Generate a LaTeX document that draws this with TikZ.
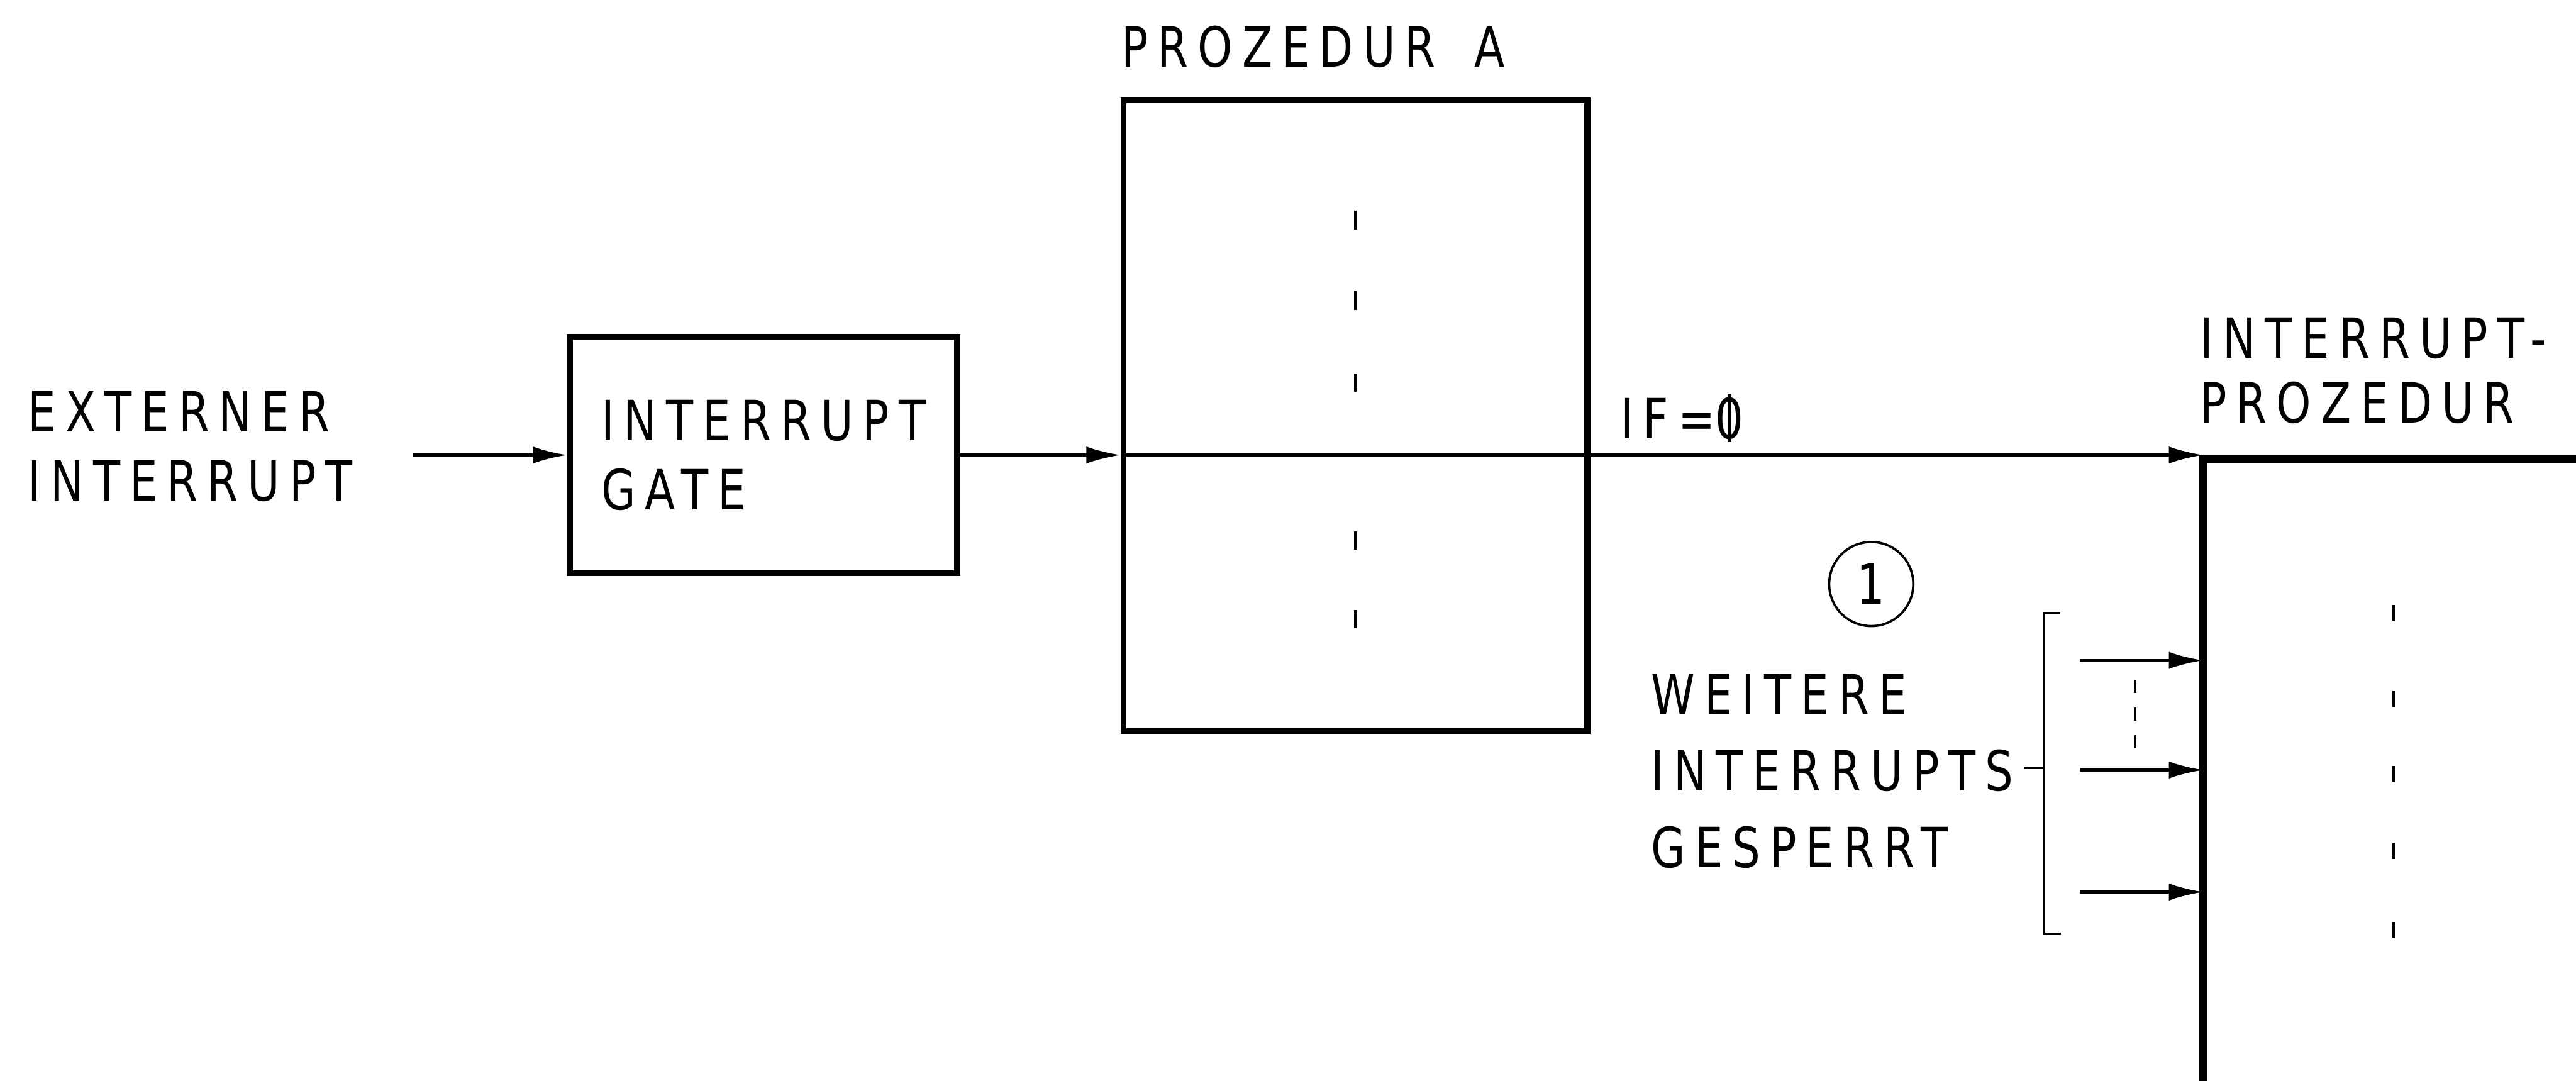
\documentclass[tikz,border=0pt]{standalone}
\usepackage{fontspec}
\setmainfont{DejaVu Sans}[FakeStretch=0.8, LetterSpace=17]
\usetikzlibrary{positioning, arrows.meta}

% zero with a vertical stroke through its middle
\newcommand{\slashzero}{\rlap{0}\hspace{0.22em}\rule[-0.06em]{0.07em}{0.86em}\hspace{0.39em}}

\begin{document}
\begin{tikzpicture}[
    box/.style={draw, rectangle, line width=1.3pt, align=left, inner sep=0pt},
    lbl/.style={align=left, inner sep=0pt, font=\fontsize{12}{15}\selectfont},
    arr/.style={-{Latex[length=2.6mm, width=1.3mm]}, line width=0.6pt},
    heavy/.style={line width=1.7pt, line join=miter},
    thin/.style={line width=0.5pt},
    stroke/.style={line width=0.6pt}
]
    \useasboundingbox (0,0) rectangle (19.6,-8.225);

    \node[box, minimum width=2.945cm, minimum height=1.8cm, font=\fontsize{12}{15}\selectfont] (gate) at (5.81,-3.4625) {INTERRUPT\\GATE};
    \node[box, minimum width=3.53cm, minimum height=4.8cm] (procA) [right=1.22cm of gate, yshift=0.3cm] {};
    \node[lbl, above right=0.2175cm and 0cm of procA.north west] (procAlbl) {PROZEDUR\hspace{0.7em}A};

    \node[lbl, anchor=north west] (extlbl) at (0.2075,-2.971) {EXTERNER\\INTERRUPT};
    \coordinate (extin) at ([xshift=-1.175cm]gate.west);

    % interrupt procedure, open to the right and below
    \coordinate (irq) at (16.7625,-3.49);
    \coordinate (irqbot) at (16.7625,-8.4);
    \coordinate (irqend) at (19.8,-3.49);
    \draw[heavy] (irqbot) -- (irq) -- (irqend);
    \node[lbl, font=\fontsize{12}{14}\selectfont, above right=0.26cm and -0.03cm of irq] (irqlbl) {INTERRUPT-\\PROZEDUR};

    \draw[arr] (extin) -- (gate.west);
    \draw[arr] (gate.east) -- (gate.east -| procA.west);
    \draw[arr] (gate.east -| procA.west) -- (gate.east -| irq);
    \node[lbl, anchor=base west] (iflbl) at (12.325,-3.3375) {IF=\slashzero};

    % dotted continuation inside the procedures
    \foreach \dy in {1.4875,0.875,0.25,-0.95,-1.55}
        \draw[stroke] ([yshift=\dy cm]procA.center) ++(0,-0.07) -- ++(0,0.14);
    \foreach \dy in {-1.1725,-1.829,-2.3975,-2.985,-3.585}
        \draw[stroke] ([shift={(1.45,\dy)}]irq) ++(0,-0.06) -- ++(0,0.12);

    \node[circle, draw, thin, minimum size=0.64cm, inner sep=0pt, font=\fontsize{12}{15}\selectfont\addfontfeatures{LetterSpace=0}] (one) at (14.2375,-4.444) {1};
    \node[lbl, font=\fontsize{12}{16.5}\selectfont, anchor=north west] (lock) at (12.556,-5.125) {WEITERE\\INTERRUPTS\\GESPERRT};

    % bracket over the blocked inputs
    \coordinate (brtop) at (15.55,-4.6625);
    \coordinate (brbot) at (15.55,-7.106);
    \draw[thin] ([xshift=0.125cm]brtop) -- (brtop) -- (brbot) -- ++(0.13,0);
    \draw[thin] (15.4,-5.844) -- (15.55,-5.844);

    \foreach \y [count=\i] in {-5.025,-5.859,-6.7875} {
        \coordinate (in\i) at (15.825,\y);
        \draw[arr] (in\i) -- (in\i -| irq);
    }
    \draw[stroke, dash pattern=on 0.1cm off 0.11cm] (16.245,-5.175) -- (16.245,-5.7);
\end{tikzpicture}
\end{document}
